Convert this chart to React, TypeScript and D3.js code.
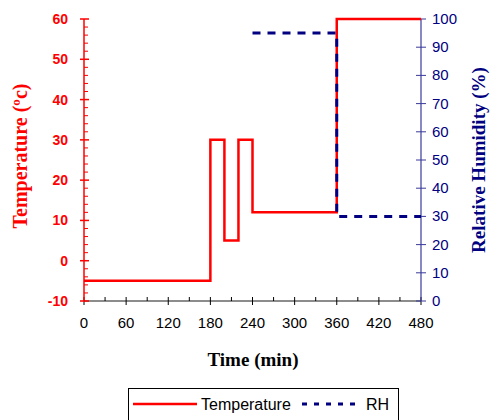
import React from "react";
import * as d3 from "d3";

// time (min) where each step starts, and the value held until the next one
const tempTimes = [0, 180, 200, 220, 240, 360, 480];
const tempValues = [-5, 30, 5, 30, 12, 60, 60];
const rhTimes = [240, 360, 480];
const rhValues = [95, 30, 30];

const xTicks = [0, 60, 120, 180, 240, 300, 360, 420, 480];
const tempTicks = [-10, 0, 10, 20, 30, 40, 50, 60];
const rhTicks = [0, 10, 20, 30, 40, 50, 60, 70, 80, 90, 100];

const W = 491;
const H = 420;
const left = 84;
const right = 421;
const top = 19;
const bottom = 301;

const RED = "#ff0000";
const NAVY = "#000080";
const SERIF = "'Liberation Serif', 'Times New Roman', serif";

const App = () => {
  const x = d3.scaleLinear().domain([0, 480]).range([left, right]);
  const yT = d3.scaleLinear().domain([-10, 60]).range([bottom, top]);
  const yR = d3.scaleLinear().domain([0, 100]).range([bottom, top]);

  const tempLine = d3
    .line<number>()
    .x((d, i) => x(tempTimes[i]))
    .y(d => yT(d))
    .curve(d3.curveStepAfter);
  const rhLine = d3
    .line<number>()
    .x((d, i) => x(rhTimes[i]))
    .y(d => yR(d))
    .curve(d3.curveStepAfter);

  const tempMinor = d3.range(-10, 61, 2).filter(v => v % 10 !== 0);
  const xMinor = d3.range(30, 480, 60);

  return (
    <svg
      width={W}
      height={H}
      style={{ position: "absolute", left: 0, top: 0, background: "#fff" }}
      fontFamily="Arial, 'Liberation Sans', sans-serif"
    >
      {/* x axis */}
      <line x1={left} x2={right} y1={bottom} y2={bottom} stroke="#666" strokeWidth={1.5} />
      {xTicks.map(t => (
        <g key={"x" + t}>
          <line x1={x(t)} x2={x(t)} y1={bottom - 4} y2={bottom + 4} stroke="#000" />
          <text x={x(t)} y={bottom + 27} fontSize={15} textAnchor="middle" fill="#000">
            {t}
          </text>
        </g>
      ))}
      {xMinor.map(t => (
        <line key={"xm" + t} x1={x(t)} x2={x(t)} y1={bottom - 4} y2={bottom} stroke="#000" />
      ))}

      {/* left axis */}
      <line x1={left} x2={left} y1={top} y2={bottom} stroke={RED} strokeWidth={1.5} />
      {tempTicks.map(v => (
        <g key={"t" + v}>
          <line x1={left - 4} x2={left + 5} y1={yT(v)} y2={yT(v)} stroke={RED} strokeWidth={1.5} />
          <text
            x={left - 16}
            y={yT(v) + 5}
            fontSize={14}
            fontWeight="bold"
            textAnchor="end"
            fill={RED}
          >
            {v}
          </text>
        </g>
      ))}
      {tempMinor.map(v => (
        <line key={"tm" + v} x1={left} x2={left + 4} y1={yT(v)} y2={yT(v)} stroke={RED} />
      ))}

      {/* right axis */}
      <line x1={right} x2={right} y1={top} y2={bottom} stroke="#3a3a9a" strokeWidth={1.2} />
      {rhTicks.map(v => (
        <g key={"r" + v}>
          <line x1={right - 5} x2={right + 5} y1={yR(v)} y2={yR(v)} stroke="#3a3a9a" />
          <text x={right + 11} y={yR(v) + 5} fontSize={15} fill={NAVY}>
            {v}
          </text>
        </g>
      ))}

      {/* series */}
      <path d={tempLine(tempValues) ?? ""} fill="none" stroke={RED} strokeWidth={2.5} />
      <path
        d={rhLine(rhValues) ?? ""}
        fill="none"
        stroke={NAVY}
        strokeWidth={3}
        strokeDasharray="8,7"
      />

      {/* titles */}
      <text
        transform={`translate(27,156) rotate(-90)`}
        textAnchor="middle"
        fontFamily={SERIF}
        fontWeight="bold"
        fontSize={20}
        fill={RED}
      >
        Temperature (ºc)
      </text>
      <text
        transform={`translate(485,160) rotate(-90)`}
        textAnchor="middle"
        fontFamily={SERIF}
        fontWeight="bold"
        fontSize={19}
        fill={NAVY}
      >
        Relative Humidity  (%)
      </text>
      <text
        x={253}
        y={366}
        textAnchor="middle"
        fontFamily={SERIF}
        fontWeight="bold"
        fontSize={19}
        fill="#000"
      >
        Time (min)
      </text>

      {/* legend */}
      <rect x={128.5} y={388.5} width={270} height={40} fill="#fff" stroke="#000" />
      <line x1={133} x2={197} y1={404} y2={404} stroke={RED} strokeWidth={2.5} />
      <text x={201} y={410} fontSize={16} fill="#000">
        Temperature
      </text>
      <line
        x1={302}
        x2={362}
        y1={404}
        y2={404}
        stroke={NAVY}
        strokeWidth={3}
        strokeDasharray="5,7"
      />
      <text x={366} y={410} fontSize={16} fill="#000">
        RH
      </text>
    </svg>
  );
};

export default App;
